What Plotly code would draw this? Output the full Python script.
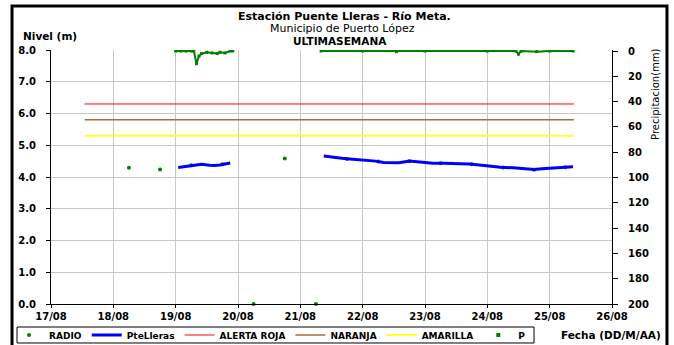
import plotly.graph_objects as go

# ---------------- data ----------------
level_time = [
    "2013-08-19 01:00", "2013-08-19 03:00", "2013-08-19 06:00", "2013-08-19 08:00",
    "2013-08-19 10:00", "2013-08-19 13:00", "2013-08-19 15:00", "2013-08-19 17:00",
    "2013-08-19 19:00", "2013-08-19 21:00", None,
    "2013-08-21 09:00", "2013-08-21 12:00", "2013-08-21 16:00", "2013-08-21 19:00",
    "2013-08-21 21:00", "2013-08-22 00:00", "2013-08-22 05:00", "2013-08-22 08:00",
    "2013-08-22 12:00", "2013-08-22 14:00", "2013-08-22 18:00", "2013-08-22 21:00",
    "2013-08-23 00:00", "2013-08-23 03:00", "2013-08-23 07:00", "2013-08-23 12:00",
    "2013-08-23 17:00", "2013-08-23 21:00", "2013-08-24 00:00", "2013-08-24 05:00",
    "2013-08-24 10:00", "2013-08-24 14:00", "2013-08-24 18:00", "2013-08-24 21:00",
    "2013-08-25 02:00", "2013-08-25 06:00", "2013-08-25 09:00",
]
level_value = [
    4.30, 4.32, 4.36, 4.38, 4.40, 4.37, 4.36, 4.38, 4.41, 4.44, None,
    4.66, 4.62, 4.59, 4.57, 4.56, 4.53, 4.50, 4.46, 4.44, 4.45, 4.50, 4.47,
    4.45, 4.43, 4.43, 4.43, 4.41, 4.38, 4.35, 4.31, 4.29, 4.26, 4.24, 4.26,
    4.29, 4.31, 4.32,
]

radio_time = [
    "2013-08-18 06:00", "2013-08-18 18:00", "2013-08-19 06:00", "2013-08-19 18:00",
    "2013-08-20 06:00", "2013-08-20 18:00", "2013-08-21 06:00", "2013-08-21 18:00",
    "2013-08-22 06:00", "2013-08-22 18:00", "2013-08-23 06:00", "2013-08-23 18:00",
    "2013-08-24 06:00", "2013-08-24 18:00", "2013-08-25 06:00",
]
radio_value = [4.29, 4.24, 4.37, 4.40, 0.0, 4.58, 0.0, 4.57, 4.49, 4.50, 4.43, 4.40, 4.30, 4.23, 4.31]

threshold_time = ["2013-08-17 13:00", "2013-08-25 09:20"]
alerta_roja = [6.3, 6.3]
naranja = [5.8, 5.8]
amarilla = [5.3, 5.3]

precip_time = [
    "2013-08-19 00:00", "2013-08-19 02:00", "2013-08-19 04:00", "2013-08-19 06:00",
    "2013-08-19 07:00", "2013-08-19 08:00", "2013-08-19 09:00", "2013-08-19 10:00",
    "2013-08-19 12:00", "2013-08-19 14:00", "2013-08-19 16:00", "2013-08-19 17:00",
    "2013-08-19 19:00", "2013-08-19 21:00", "2013-08-19 22:00", None,
    "2013-08-21 08:00", "2013-08-22 00:00", "2013-08-22 13:00", "2013-08-23 00:00",
    "2013-08-24 00:00", "2013-08-24 11:00", "2013-08-24 12:00", "2013-08-24 13:00",
    "2013-08-24 19:00", "2013-08-25 00:00", "2013-08-25 09:00",
]
precip_value = [
    0, 0, 0, 0, 0, 10, 4, 2, 1, 1.5, 2, 1, 1.5, 0, 0, None,
    0, 0, 0.5, 0, 0, 0, 2.5, 0, 0.5, 0, 0,
]

x_ticks_range = ["2013-08-17", "2013-08-26"]

# ---------------- figure ----------------
FONT = "DejaVu Sans"
GREEN = "#008000"
fig = go.Figure()

fig.add_trace(go.Scatter(x=radio_time, y=radio_value, name="RADIO", mode="markers",
                         marker=dict(color=GREEN, size=4, symbol="circle"), cliponaxis=False))
fig.add_trace(go.Scatter(x=level_time, y=level_value, name="PteLleras", mode="lines",
                         line=dict(color="#0000ff", width=3)))
fig.add_trace(go.Scatter(x=threshold_time, y=alerta_roja, name="ALERTA ROJA", mode="lines",
                         line=dict(color="#ff0000", width=1)))
fig.add_trace(go.Scatter(x=threshold_time, y=naranja, name="NARANJA", mode="lines",
                         line=dict(color="#a0703c", width=1.5)))
fig.add_trace(go.Scatter(x=threshold_time, y=amarilla, name="AMARILLA", mode="lines",
                         line=dict(color="#ffff33", width=2)))
fig.add_trace(go.Scatter(x=precip_time, y=precip_value, name="P", mode="lines+markers",
                         yaxis="y2", line=dict(color=GREEN, width=2), showlegend=False,
                         legendgroup="P", marker=dict(color=GREEN, size=3, symbol="square")))
# legend entry for P (marker only, as in the original legend)
fig.add_trace(go.Scatter(x=[None], y=[None], name="P", mode="markers", yaxis="y2",
                         legendgroup="P", marker=dict(color=GREEN, size=4, symbol="square")))

tickfont = dict(family=FONT, size=10, color="black", weight="bold")
fig.update_layout(
    width=674, height=345,
    margin=dict(l=51, r=62, t=50, b=41, autoexpand=False),
    paper_bgcolor="white", plot_bgcolor="white",
    xaxis=dict(type="date", range=x_ticks_range, dtick=86400000, tickformat="%d/%m",
               showgrid=True, gridcolor="#c8c8c8", gridwidth=1,
               showline=True, linecolor="black", linewidth=1,
               ticks="outside", ticklen=3, tickcolor="black", tickfont=tickfont),
    yaxis=dict(range=[0, 8], dtick=1, tickformat=".1f", showgrid=True, gridcolor="#c8c8c8",
               zeroline=False, showline=True, linecolor="black", linewidth=1,
               ticks="outside", ticklen=4, tickcolor="black", tickfont=tickfont,
               ticklabelstandoff=8),
    yaxis2=dict(overlaying="y", side="right", range=[200, -0.8], tickvals=list(range(0, 201, 20)),
                showgrid=False, zeroline=False, showline=True, linecolor="black", linewidth=1,
                ticks="outside", ticklen=5, tickcolor="black", tickfont=tickfont,
                ticklabelstandoff=8),
    showlegend=True,
    legend=dict(orientation="h", xref="container", yref="container",
                x=0.0134, xanchor="left", y=0.029, yanchor="middle",
                borderwidth=0, bgcolor="rgba(0,0,0,0)",
                font=dict(family=FONT, size=9, color="black", weight="bold"),
                itemwidth=30, tracegroupgap=0),
    shapes=[
        dict(type="rect", xref="paper", yref="paper", x0=-0.0695, x1=1.098,
             y0=-0.25, y1=1.173, line=dict(color="black", width=3)),
        # legend frame
        dict(type="rect", xref="paper", yref="paper", x0=-0.0606, x1=0.861,
             y0=-0.1535, y1=-0.0906, line=dict(color="black", width=1)),
    ],
    annotations=[
        dict(text="Estación Puente Lleras - Río Meta.", xref="paper", yref="paper",
             x=0.524, y=1.13, showarrow=False, xanchor="center", yanchor="middle",
             font=dict(family=FONT, size=11, color="black", weight="bold")),
        dict(text="Municipio de Puerto López", xref="paper", yref="paper",
             x=0.52, y=1.083, showarrow=False, xanchor="center", yanchor="middle",
             font=dict(family=FONT, size=11, color="black")),
        dict(text="ULTIMASEMANA", xref="paper", yref="paper",
             x=0.515, y=1.035, showarrow=False, xanchor="center", yanchor="middle",
             font=dict(family=FONT, size=10.5, color="black", weight="bold")),
        dict(text="Nivel (m)", xref="paper", yref="paper",
             x=-0.0535, y=1.055, showarrow=False, xanchor="left", yanchor="middle",
             font=dict(family=FONT, size=10.5, color="black", weight="bold")),
        dict(text="Fecha (DD/M/AA)", xref="paper", yref="paper",
             x=1.091, y=-0.122, showarrow=False, xanchor="right", yanchor="middle",
             font=dict(family=FONT, size=10.5, color="black", weight="bold")),
        dict(text="Precipitacion(mm)", xref="paper", yref="paper", textangle=-90,
             x=1.0784, y=0.827, showarrow=False, xanchor="center", yanchor="middle",
             font=dict(family=FONT, size=10, color="black")),
    ],
)

fig.write_html("out.html", config={"displayModeBar": False},
               post_script="document.body.style.margin='0';")
